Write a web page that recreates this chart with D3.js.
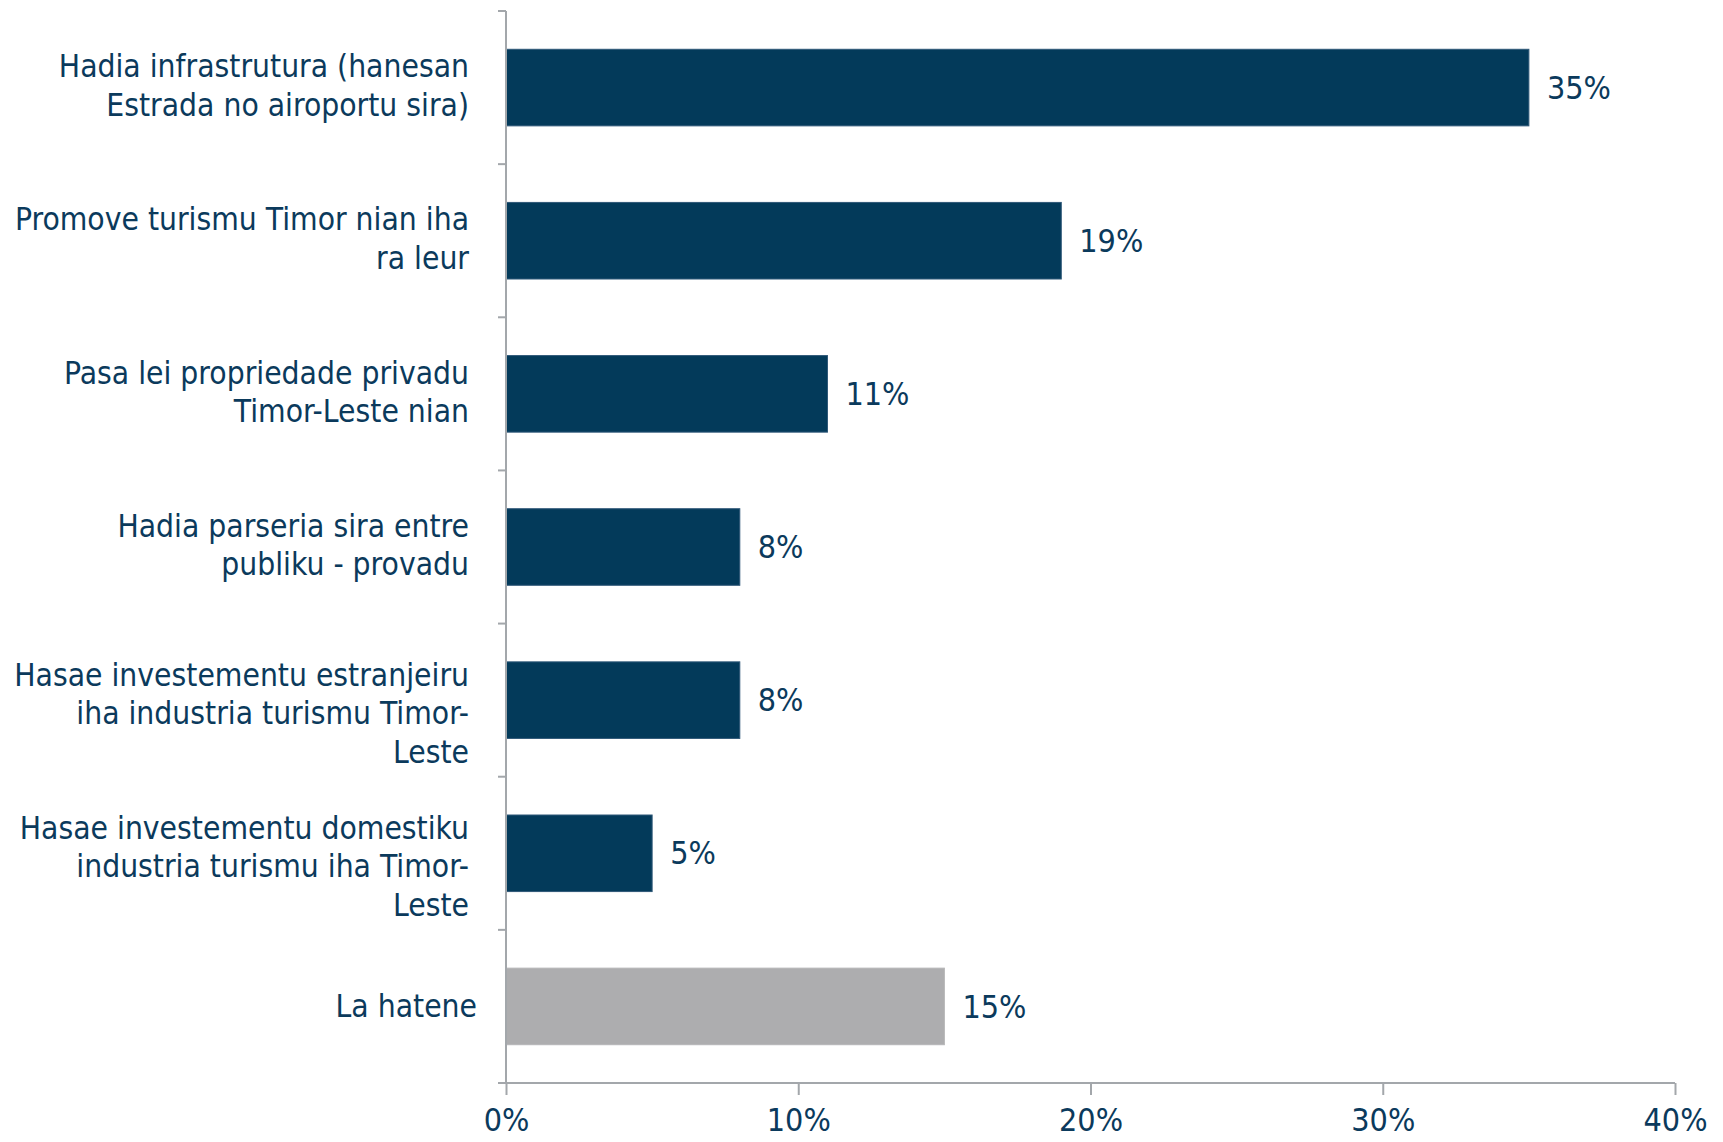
<!DOCTYPE html>
<html><head><meta charset="utf-8">
<script src="https://cdn.jsdelivr.net/npm/d3@7"></script>
<style>body{margin:0;background:#fff}svg{display:block}</style>
</head><body>
<svg id="c" width="1723" height="1142"></svg>
<script>
const categories = [
  ["Hadia infrastrutura (hanesan", "Estrada no airoportu sira)"],
  ["Promove turismu Timor nian iha", "ra leur"],
  ["Pasa lei propriedade privadu", "Timor-Leste nian"],
  ["Hadia parseria sira entre", "publiku - provadu"],
  ["Hasae investementu estranjeiru", "iha industria turismu Timor-", "Leste"],
  ["Hasae investementu domestiku", "industria turismu iha Timor-", "Leste"],
  ["La hatene"]
];
const values = [35, 19, 11, 8, 8, 5, 15];
const tickValues = [0, 10, 20, 30, 40];
const tickLabels = ["0%", "10%", "20%", "30%", "40%"];

const FONT = "'DejaVu Sans Condensed', 'DejaVu Sans', sans-serif";
const textColor = "#0b3a5c";
const barColor = "#033a5a";
const grayColor = "#adadaf";
const axisColor = "#a3a7ab";

const svg = d3.select("#c");
const m = {left: 506, top: 11, right: 48, bottom: 59};
const W = 1723, H = 1142;
const x = d3.scaleLinear().domain([0, 40]).range([m.left, W - m.right]);
const y = d3.scaleBand().domain(d3.range(categories.length)).range([m.top, H - m.bottom]).paddingInner(0.5).paddingOuter(0.25);
const yb = d3.scaleBand().domain(d3.range(categories.length)).range([m.top, H - m.bottom]);

// bars
svg.selectAll("rect.bar").data(values).join("rect")
  .attr("class", "bar")
  .attr("x", x(0))
  .attr("y", (d, i) => y(i))
  .attr("width", d => x(d) - x(0))
  .attr("height", y.bandwidth())
  .attr("fill", (d, i) => i === values.length - 1 ? grayColor : barColor)
  .attr("stroke", (d, i) => i === values.length - 1 ? "#b5b5b7" : "#2f5878")
  .attr("stroke-width", 1);

// left axis line + ticks at band boundaries
const yAxis = svg.append("g");
yAxis.append("line").attr("x1", x(0)).attr("x2", x(0)).attr("y1", m.top).attr("y2", H - m.bottom)
  .attr("stroke", axisColor).attr("stroke-width", 2);
const bounds = d3.range(categories.length).map(i => yb(i));
yAxis.selectAll("line.t").data(bounds).join("line").attr("class", "t")
  .attr("x1", x(0) - 8).attr("x2", x(0)).attr("y1", d => d).attr("y2", d => d)
  .attr("stroke", axisColor).attr("stroke-width", 2);

// bottom axis
const xAxis = d3.axisBottom(x).tickValues(tickValues).tickFormat((d, i) => tickLabels[i]).tickSizeInner(12).tickSizeOuter(0).tickPadding(0);
const gx = svg.append("g").attr("transform", `translate(0,${H - m.bottom})`).call(xAxis);
gx.select(".domain").attr("stroke", axisColor).attr("stroke-width", 2).attr("d", `M${x(0) - 8},0H${x(40)}`);
gx.selectAll(".tick line").attr("stroke", axisColor).attr("stroke-width", 2);
gx.selectAll(".tick text").attr("fill", textColor).attr("font-family", FONT).attr("font-size", 32)
  .attr("y", 48).attr("dy", "0");

// category labels
const lh = 38.5;
categories.forEach((lines, i) => {
  const cy = y(i) + y.bandwidth() / 2;
  const n = lines.length;
  const shift = n === 3 ? 13 : -2;
  const xr = n === 1 ? x(0) - 29 : x(0) - 37;
  const t = svg.append("text").attr("text-anchor", "end").attr("fill", textColor)
    .attr("font-family", FONT).attr("font-size", 31.5);
  lines.forEach((ln, k) => {
    t.append("tspan").attr("x", xr).attr("y", cy - (n - 1) / 2 * lh + k * lh + (n === 1 ? 0 : shift)).attr("dy", "0.35em").text(ln);
  });
});

// value labels
svg.selectAll("text.val").data(values).join("text").attr("class", "val")
  .attr("x", d => x(d) + 18)
  .attr("y", (d, i) => y(i) + y.bandwidth() / 2)
  .attr("dy", "0.35em")
  .attr("fill", textColor).attr("font-family", FONT).attr("font-size", 32)
  .text(d => d + "%");
</script>
</body></html>
